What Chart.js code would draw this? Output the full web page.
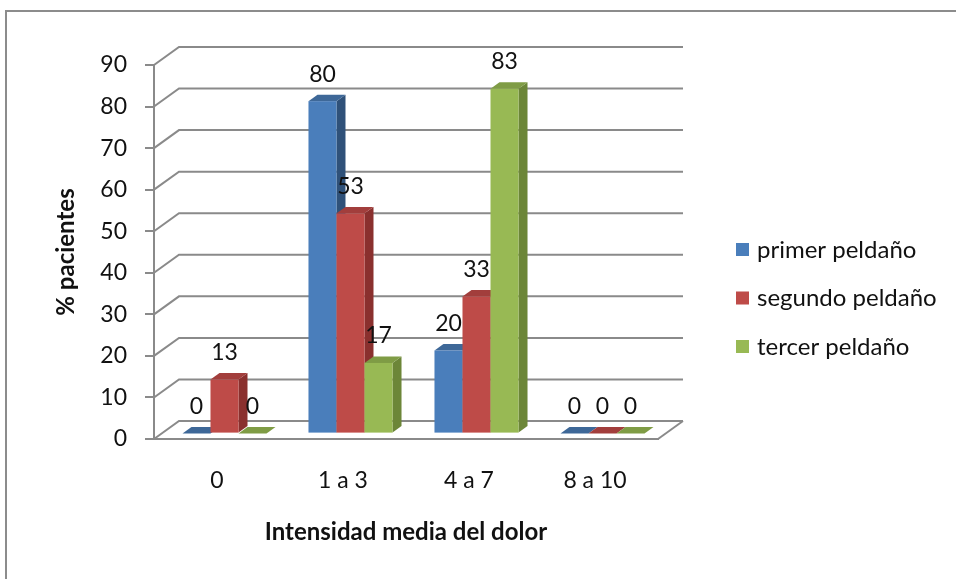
<!DOCTYPE html>
<html>
<head>
<meta charset="utf-8">
<script src="https://cdn.jsdelivr.net/npm/chart.js@4.4.1/dist/chart.umd.min.js"></script>
<style>
  html, body { margin: 0; padding: 0; background: #fff; }
  #wrap { width: 956px; height: 579px; }
</style>
</head>
<body>
<div id="wrap"><canvas id="chart" width="956" height="579"></canvas></div>
<script>
// intensity groups and the three step series (% of patients)
const categories = ["0", "1 a 3", "4 a 7", "8 a 10"];
const seriesNames = ["primer peldaño", "segundo peldaño", "tercer peldaño"];
const primer = [0, 80, 20, 0];
const segundo = [13, 53, 33, 0];
const tercer = [0, 17, 83, 0];
const yTicks = [0, 10, 20, 30, 40, 50, 60, 70, 80, 90];

// shaded faces for the 3D columns
const faces = [
  { front: "#4a7ebb", top: "#3e6898", side: "#2f5179" },
  { front: "#be4b48", top: "#a23e3c", side: "#8a302e" },
  { front: "#98b954", top: "#7f9c45", side: "#6c8638" },
];

const FONT = "Lato";
const GRID = "#8a8a8a";
const DEPTH = { dx: 25, dy: -18 };   // wall depth offset
const BAR_FRONT = 0.3, BAR_BACK = 0.66;

Chart.defaults.font.family = FONT;
Chart.defaults.color = "#111";

function poly(ctx, pts, fill) {
  ctx.beginPath();
  ctx.moveTo(pts[0][0], pts[0][1]);
  for (let i = 1; i < pts.length; i++) ctx.lineTo(pts[i][0], pts[i][1]);
  ctx.closePath();
  ctx.fillStyle = fill;
  ctx.fill();
}

const scenePlugin = {
  id: "scene",
  beforeDraw(chart) {
    const { ctx, chartArea: a, scales: { y } } = chart;
    ctx.save();
    ctx.fillStyle = "#fff";
    ctx.fillRect(0, 0, chart.width, chart.height);

    // outer frame
    ctx.strokeStyle = "#8c8c8c";
    ctx.lineWidth = 2;
    ctx.beginPath();
    ctx.moveTo(6, chart.height);
    ctx.lineTo(6, 11);
    ctx.lineTo(chart.width, 11);
    ctx.stroke();

    // floor
    const y0 = y.getPixelForValue(0);
    poly(ctx, [[a.left, y0], [a.right, y0], [a.right + DEPTH.dx, y0 + DEPTH.dy], [a.left + DEPTH.dx, y0 + DEPTH.dy]], "#fff");
    ctx.strokeStyle = GRID;
    ctx.lineWidth = 2;
    ctx.beginPath();
    ctx.moveTo(a.right, y0);
    ctx.lineTo(a.right + DEPTH.dx, y0 + DEPTH.dy);
    ctx.stroke();

    // side wall diagonals and back wall gridlines
    yTicks.forEach(v => {
      const py = y.getPixelForValue(v);
      ctx.beginPath();
      ctx.moveTo(a.left, py);
      ctx.lineTo(a.left + DEPTH.dx, py + DEPTH.dy);
      ctx.lineTo(a.right + DEPTH.dx, py + DEPTH.dy);
      ctx.stroke();
    });
    ctx.restore();
  },
  beforeDatasetsDraw(chart) {
    const { ctx } = chart;
    const f = { dx: DEPTH.dx * BAR_FRONT, dy: DEPTH.dy * BAR_FRONT };
    const b = { dx: DEPTH.dx * BAR_BACK, dy: DEPTH.dy * BAR_BACK };
    ctx.save();
    const labels = [];
    categories.forEach((_, j) => {
      chart.data.datasets.forEach((ds, i) => {
        const el = chart.getDatasetMeta(i).data[j];
        const c = faces[i];
        const x0 = el.x - el.width / 2, x1 = el.x + el.width / 2;
        const fyT = el.y + f.dy, fyB = el.base + f.dy;
        const byT = el.y + b.dy, byB = el.base + b.dy;
        // right side
        poly(ctx, [[x1 + f.dx, fyT], [x1 + b.dx, byT], [x1 + b.dx, byB], [x1 + f.dx, fyB]], c.side);
        // top
        poly(ctx, [[x0 + f.dx, fyT], [x0 + b.dx, byT], [x1 + b.dx, byT], [x1 + f.dx, fyT]], c.top);
        // front
        ctx.fillStyle = c.front;
        ctx.fillRect(x0 + f.dx, fyT, el.width, fyB - fyT);
        labels.push({ x: el.x + f.dx, y: fyT - 27, text: String(ds.data[j]) });
      });
    });
    // value labels
    ctx.font = "23px " + FONT;
    ctx.fillStyle = "#111";
    ctx.textAlign = "center";
    ctx.textBaseline = "middle";
    labels.forEach(l => ctx.fillText(l.text, l.x, l.y));
    ctx.restore();
    return false;
  },
  afterDraw(chart) {
    // legend
    const { ctx } = chart;
    ctx.save();
    ctx.font = "24px " + FONT;
    ctx.textAlign = "left";
    ctx.textBaseline = "middle";
    chart.data.datasets.forEach((ds, i) => {
      const cy = 250 + i * 48.5;
      ctx.fillStyle = ds.backgroundColor;
      ctx.fillRect(736, cy - 7, 13, 13);
      ctx.fillStyle = "#111";
      ctx.fillText(ds.label, 757, cy);
    });
    ctx.restore();
  },
};

new Chart(document.getElementById("chart"), {
  type: "bar",
  data: {
    labels: categories,
    datasets: [
      { label: seriesNames[0], data: primer, backgroundColor: faces[0].front },
      { label: seriesNames[1], data: segundo, backgroundColor: faces[1].front },
      { label: seriesNames[2], data: tercer, backgroundColor: faces[2].front },
    ],
  },
  options: {
    responsive: false,
    animation: false,
    devicePixelRatio: 1,
    layout: { padding: { top: 65, right: 298, left: 0, bottom: 0 } },
    datasets: { bar: { categoryPercentage: 0.667, barPercentage: 1 } },
    plugins: { legend: { display: false }, tooltip: { enabled: false } },
    scales: {
      x: {
        afterFit: s => { s.height = 140; },
        border: { display: true, color: GRID, width: 2 },
        grid: { drawOnChartArea: false, drawTicks: false },
        ticks: { padding: 28, font: { size: 23 }, color: "#111" },
        title: {
          display: true,
          text: "Intensidad media del dolor",
          font: { size: 24, weight: "bold" },
          color: "#111",
          padding: { top: 0, bottom: 32 },
        },
      },
      y: {
        min: 0,
        max: 90,
        afterFit: s => { s.width = 154; },
        afterBuildTicks: s => { s.ticks = yTicks.map(v => ({ value: v })); },
        border: { display: true, color: GRID, width: 2 },
        grid: { drawOnChartArea: false, drawTicks: true, tickLength: 9, color: GRID, lineWidth: 2 },
        ticks: { padding: 18, font: { size: 23 }, color: "#111" },
        title: {
          display: true,
          text: "% pacientes",
          font: { size: 24, weight: "bold" },
          color: "#111",
          padding: { top: 52, bottom: 0 },
        },
      },
    },
  },
  plugins: [scenePlugin],
});
</script>
</body>
</html>
